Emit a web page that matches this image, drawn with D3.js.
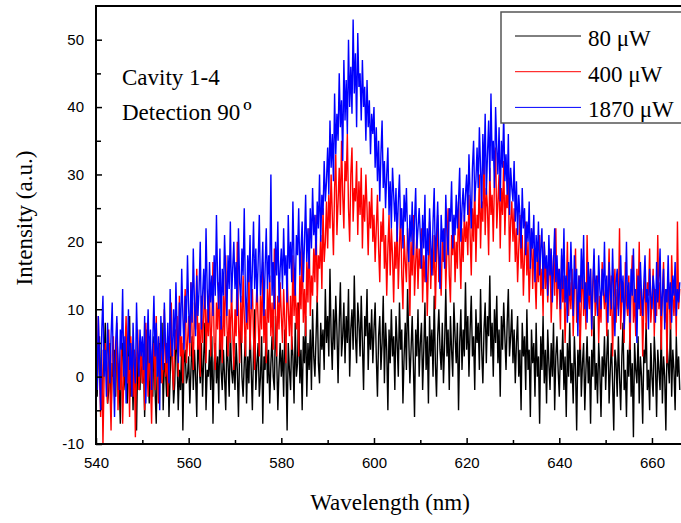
<!DOCTYPE html>
<html>
<head>
<meta charset="utf-8">
<script src="https://cdn.jsdelivr.net/npm/d3@7"></script>
<style>
  body { margin: 0; background: #fff; }
  .tick-label { font-family: "Liberation Sans", Arial, sans-serif; font-size: 15px; }
  .serif { font-family: "Liberation Serif", "DejaVu Serif", serif; font-size: 23px; }
</style>
</head>
<body>
<div id="chart"></div>
<script>
// wavelength grid (nm)
const wlStart = 540;
const wlStep = 0.25;

const seriesNames = ['80 \u03bcW', '400 \u03bcW', '1870 \u03bcW'];
const seriesColors = ['#000000', '#ff0000', '#0000ff'];

const xTicks = [540, 560, 580, 600, 620, 640, 660];
const yTicks = [-10, 0, 10, 20, 30, 40, 50];

// 80 uW, one row per 10 nm
const p80 = [
  2, -3, 4, 6, -1, -5, 0, 3, 8, 1, -4, -2, 5, -6, 2, 0, 4, -3, 7, 1, -1, -7, 3, 5, -2, 0, 6, -4, 1, 9, -3, 2, -5, 4, 0, -8, 3, 1, -2, 5,
  -1, 3, -6, 2, 7, 0, -4, 4, 1, -3, 6, -2, -7, 3, 0, 5, -1, 8, -5, 2, 1, -3, 4, -6, 0, 6, 2, -4, -1, 7, 3, -5, 1, -2, 5, -8, 2, 4, -1, 0,
  3, -4, 1, 6, -2, 4, 0, -6, 7, 2, -1, 5, -3, 3, 8, -5, 1, 0, 4, -2, 6, -7, 2, 5, -1, 3, -4, 9, 1, -2, 4, 0, -5, 6, 2, -3, 7, 1, -1, 3,
  -2, 5, 1, -6, 4, 8, 0, -3, 2, 6, -4, 3, -1, 7, 1, -5, 4, 10, -2, 2, 5, -3, 0, 6, -7, 3, 1, 8, -1, 4, -4, 2, 6, 0, -2, 9, 3, -5, 1, 5,
  0, 4, -3, 7, 2, -8, 5, 1, -2, 6, 3, -4, 8, 0, 2, 11, -1, 4, -5, 6, 2, 9, -3, 5, 1, 7, -2, 10, 3, 0, 6, 12, 2, -1, 8, 4, 7, 1, 13, 5,
  9, 3, 16, 6, 1, 10, 4, 12, 7, -1, 8, 14, 3, 6, 11, 2, 9, 5, 13, 0, 7, 10, 4, 15, 6, 2, 11, 8, 3, 12, 5, -2, 9, 6, 13, 1, 8, 4, 10, 2,
  7, 11, 3, -3, 6, 9, 1, 5, 12, -1, 8, 4, -5, 7, 2, 10, 3, 6, -2, 9, 5, 0, 11, 4, 7, -4, 3, 8, 1, 13, 6, -1, 4, 9, 2, -6, 7, 3, 10, 0,
  5, 8, -2, 4, 11, 1, 6, -4, 9, 3, 7, 0, 12, 2, -3, 6, 10, 4, 1, 8, -1, 5, 13, 3, 7, -2, 9, 4, 0, 11, 6, 2, 8, -5, 5, 10, 1, 7, 3, 14,
  4, 9, 0, 7, 12, 3, 6, -2, 10, 5, 8, 1, 13, 4, -1, 7, 11, 2, 9, 6, 15, 3, 8, 0, 10, 5, 12, 2, 7, -3, 9, 4, 11, 6, 1, 8, 13, 3, 6, 10,
  2, 7, -1, 5, 9, 0, 4, -5, 8, 3, 6, -2, 10, 1, 4, -6, 7, 2, 5, -3, 8, 0, 3, -7, 6, 1, 9, -1, 4, -4, 7, 2, -2, 5, 0, 8, -5, 3, 6, 1,
  -3, 4, 1, 7, -2, 3, -6, 5, 0, 8, -1, 2, -4, 6, 1, -8, 4, 0, 7, -3, 2, 5, -5, 1, 6, -1, 3, -7, 4, 0, 9, -2, 2, -4, 5, 1, -6, 3, 0, 6,
  -2, 3, 7, -4, 1, 5, -1, -8, 4, 2, -3, 6, 0, -5, 3, 8, -2, 1, -6, 4, 0, 7, -3, 2, -9, 5, 1, -1, 6, -4, 3, 0, -7, 4, 2, 8, -2, 1, -5, 5,
  0, -3, 6, 2, -6, 4, 1, -2, 7, -4, 3, 0, -8, 5, 2, -1, 9, -3, 4, 1, -5, 6, 0, 3, -2,
];

// 400 uW
const p400 = [
  3, -2, 9, 1, -6, 4, -10, 0, 5, 2, -4, 7, -1, -8, 3, 6, -3, 1, 8, -5, 2, -2, 5, -7, 0, 4, 9, -1, 3, -6, 6, 1, -3, 4, -9, 2, 7, -2, 0, 5,
  -1, 4, -5, 8, 2, -3, 6, 0, -7, 3, 5, -2, 9, 1, -4, 4, 7, -1, 2, 10, 0, 5, -3, 6, 3, 11, 1, -2, 7, 4, 9, 0, 12, 3, 6, -1, 8, 13, 2, 5,
  9, 3, 14, 6, 1, 11, 7, 16, 4, 8, 0, 12, 5, 9, 15, 2, 10, 6, 13, 3, 8, 17, 5, 1, 11, 7, 14, 4, 9, 2, 12, 6, 18, 8, 3, 10, 5, 13, 7, 1,
  10, 6, 20, 8, 2, 12, 5, 15, 9, 3, 11, 7, 16, 4, 10, 13, 6, 1, 9, 14, 8, 3, 12, 7, 17, 5, 10, 2, 13, 8, 15, 6, 11, 4, 19, 9, 3, 12, 7, 14,
  9, 5, 13, 8, 2, 16, 10, 6, 12, 4, 18, 9, 14, 7, 11, 3, 15, 10, 20, 8, 13, 6, 17, 11, 22, 9, 15, 12, 19, 14, 24, 11, 18, 16, 21, 13, 25, 17, 20, 26,
  19, 27, 22, 30, 24, 18, 28, 33, 21, 26, 31, 24, 35, 27, 22, 32, 29, 36, 25, 20, 30, 34, 23, 28, 26, 32, 21, 29, 24, 31, 19, 27, 23, 30, 25, 18, 26, 22, 28, 20,
  24, 17, 22, 27, 19, 14, 23, 20, 25, 16, 21, 12, 19, 24, 15, 22, 18, 11, 20, 16, 23, 13, 19, 25, 15, 10, 21, 17, 14, 22, 18, 9, 20, 15, 24, 12, 17, 21, 13, 19,
  16, 22, 11, 18, 14, 20, 9, 17, 23, 13, 19, 15, 21, 10, 18, 24, 14, 16, 12, 20, 17, 22, 13, 19, 25, 15, 11, 21, 18, 23, 14, 20, 16, 26, 19, 13, 22, 17, 24, 20,
  23, 18, 27, 21, 15, 25, 20, 29, 17, 24, 22, 30, 19, 26, 23, 33, 21, 28, 25, 18, 31, 24, 27, 20, 29, 34, 22, 26, 30, 19, 28, 24, 32, 21, 27, 25, 31, 17, 23, 26,
  20, 25, 17, 22, 14, 19, 24, 16, 21, 12, 18, 23, 15, 20, 11, 17, 22, 13, 19, 15, 10, 18, 14, 21, 12, 16, 9, 20, 13, 17, 11, 15, 19, 8, 14, 18, 12, 22, 10, 16,
  13, 7, 18, 11, 15, 5, 12, 20, 9, 14, 10, 16, 6, 13, 19, 8, 12, 15, 4, 11, 17, 9, 14, 7, 21, 12, 10, 16, 6, 13, 18, 9, 11, 15, 5, 12, 8, 17, 13, 10,
  14, 6, 12, 19, 9, 15, 3, 11, 16, 8, 13, 10, 22, 7, 12, 14, 5, 17, 11, 9, 15, 4, 13, 18, 8, 12, 6, 16, 10, 20, 9, 13, 3, 11, 15, 7, 14, 12, 19, 8,
  11, 16, 6, 13, 9, 21, 10, 14, 4, 12, 17, 8, 13, 2, 15, 11, 7, 18, 12, 9, 14, 6, 23, 10, 13,
];

// 1870 uW
const p1870 = [
  5, -2, 9, 2, -5, 7, 12, 0, 4, -3, 8, 3, -1, 6, 11, 1, -6, 5, 9, 2, -2, 7, 4, 13, 0, 6, -4, 3, 10, 1, 5, -3, 8, 2, -1, 11, 4, 0, 7, 3,
  6, 1, 9, -4, 4, 10, 2, 7, -2, 5, 12, 3, 8, 0, 6, -5, 9, 4, 1, 11, 5, 2, 8, -1, 13, 6, 3, 10, 4, 14, 7, 2, 11, 6, 16, 9, 4, 12, 8, 18,
  10, 5, 14, 8, 19, 11, 6, 15, 9, 13, 20, 7, 12, 16, 10, 22, 13, 8, 17, 11, 15, 9, 18, 12, 24, 14, 10, 19, 7, 16, 12, 21, 15, 9, 18, 13, 23, 11, 16, 20,
  13, 17, 9, 22, 14, 11, 19, 15, 25, 12, 8, 18, 14, 21, 10, 16, 23, 13, 19, 11, 17, 24, 12, 15, 20, 9, 16, 22, 13, 18, 14, 30, 12, 17, 10, 20, 15, 23, 11, 16,
  19, 13, 22, 15, 18, 11, 24, 16, 20, 14, 26, 17, 12, 21, 18, 25, 15, 19, 23, 14, 20, 27, 17, 22, 16, 25, 19, 28, 21, 24, 18, 26, 22, 30, 20, 27, 24, 32, 26, 29,
  34, 27, 38, 31, 36, 29, 42, 33, 39, 35, 45, 37, 41, 32, 47, 38, 44, 36, 50, 40, 46, 39, 53, 42, 48, 37, 51, 43, 45, 38, 47, 40, 43, 35, 44, 37, 41, 33, 39, 36,
  40, 31, 37, 29, 35, 26, 33, 38, 28, 32, 25, 30, 34, 24, 29, 22, 31, 27, 23, 28, 20, 26, 30, 22, 25, 19, 27, 23, 28, 21, 17, 24, 20, 26, 18, 23, 28, 19, 22, 25,
  21, 16, 24, 19, 27, 14, 22, 18, 25, 20, 15, 23, 28, 17, 21, 26, 19, 13, 24, 20, 22, 16, 27, 21, 18, 25, 23, 29, 19, 24, 21, 27, 22, 26, 31, 20, 25, 28, 23, 27,
  30, 24, 33, 27, 22, 31, 35, 26, 29, 34, 28, 37, 31, 25, 36, 30, 39, 27, 33, 38, 29, 42, 32, 35, 28, 40, 34, 30, 37, 26, 35, 31, 39, 29, 33, 27, 36, 24, 31, 28,
  26, 32, 23, 29, 21, 27, 24, 19, 28, 22, 25, 18, 23, 20, 26, 16, 22, 19, 24, 14, 21, 17, 23, 15, 19, 22, 13, 20, 16, 18, 12, 21, 15, 19, 11, 17, 22, 14, 18, 13,
  16, 10, 19, 13, 22, 11, 15, 8, 17, 12, 20, 14, 9, 18, 13, 16, 6, 15, 11, 19, 13, 21, 10, 14, 8, 17, 12, 16, 7, 14, 19, 11, 15, 9, 18, 13, 10, 16, 12, 20,
  11, 15, 8, 17, 13, 10, 19, 12, 6, 14, 16, 9, 13, 18, 11, 15, 7, 12, 20, 10, 14, 8, 16, 12, 19, 11, 13, 5, 15, 10, 17, 12, 9, 14, 18, 11, 13, 7, 16, 12,
  10, 15, 13, 8, 17, 11, 14, 19, 9, 12, 16, 7, 13, 11, 18, 10, 14, 8, 15, 12, 17, 9, 13, 11, 14,
];

class SpectrumChart {
  constructor(_config, _data) {
    this.config = {
      parentElement: _config.parentElement,
      containerWidth: 681,
      containerHeight: 523,
      margin: {
        top: 6, right: -2, bottom: 79, left: 96,
      },
    };
    this.data = _data;
    this.initVis();
  }

  initVis() {
    const vis = this;
    const m = vis.config.margin;

    vis.width = vis.config.containerWidth - m.left - m.right;
    vis.height = vis.config.containerHeight - m.top - m.bottom;

    vis.svg = d3.select(vis.config.parentElement).append('svg')
      .attr('width', vis.config.containerWidth)
      .attr('height', vis.config.containerHeight);

    vis.chartArea = vis.svg.append('g')
      .attr('transform', `translate(${m.left},${m.top})`);

    // 4.633 px per nm in the reference
    vis.xScale = d3.scaleLinear()
      .domain([540, 540 + vis.width / 4.633])
      .range([0, vis.width]);

    vis.yScale = d3.scaleLinear()
      .domain([-10, 55])
      .range([vis.height, 0]);

    vis.svg.append('defs').append('clipPath')
      .attr('id', 'plot-clip')
      .append('rect')
      .attr('width', vis.width)
      .attr('height', vis.height);

    vis.updateVis();
  }

  updateVis() {
    const vis = this;
    vis.series = vis.data.map((vals, i) => ({
      name: seriesNames[i],
      color: seriesColors[i],
      points: vals.map((v, j) => ({ wl: wlStart + j * wlStep, value: v })),
    }));
    vis.renderVis();
  }

  renderVis() {
    const vis = this;

    const line = d3.line()
      .x((d) => vis.xScale(d.wl))
      .y((d) => vis.yScale(d.value));

    vis.chartArea.append('g')
      .attr('clip-path', 'url(#plot-clip)')
      .selectAll('path.spectrum')
      .data(vis.series)
      .join('path')
      .attr('class', 'spectrum')
      .attr('fill', 'none')
      .attr('stroke', (d) => d.color)
      .attr('stroke-width', 1.4)
      .attr('d', (d) => line(d.points));

    // inward ticks
    const xAxis = d3.axisBottom(vis.xScale)
      .tickValues(d3.range(540, 670, 10))
      .tickSize(-6)
      .tickFormat((d) => (xTicks.includes(d) ? d : ''));
    const xAxisG = vis.chartArea.append('g')
      .attr('transform', `translate(0,${vis.height})`)
      .call(xAxis);
    xAxisG.selectAll('.tick')
      .filter((d) => !xTicks.includes(d))
      .select('line')
      .attr('y2', -4);
    xAxisG.selectAll('text')
      .attr('class', 'tick-label')
      .attr('y', 13)
      .attr('fill', '#000');

    const yAxis = d3.axisLeft(vis.yScale)
      .tickValues(d3.range(-10, 55, 5))
      .tickSize(-6)
      .tickFormat((d) => (yTicks.includes(d) ? d : ''));
    const yAxisG = vis.chartArea.append('g').call(yAxis);
    yAxisG.selectAll('.tick')
      .filter((d) => !yTicks.includes(d))
      .select('line')
      .attr('x2', 5);
    yAxisG.selectAll('text')
      .attr('class', 'tick-label')
      .attr('x', -12)
      .attr('fill', '#000');

    [xAxisG, yAxisG].forEach((g) => {
      g.select('.domain').remove();
      g.selectAll('.tick line').attr('stroke', '#000').attr('stroke-width', 1.5);
    });

    // frame
    vis.chartArea.append('rect')
      .attr('width', vis.width)
      .attr('height', vis.height)
      .attr('fill', 'none')
      .attr('stroke', '#000')
      .attr('stroke-width', 2);

    // axis titles
    vis.svg.append('text')
      .attr('class', 'serif')
      .attr('x', 390)
      .attr('y', 510)
      .attr('text-anchor', 'middle')
      .text('Wavelength (nm)');

    vis.svg.append('text')
      .attr('class', 'serif')
      .attr('transform', 'translate(32,218) rotate(-90)')
      .attr('text-anchor', 'middle')
      .text('Intensity (a.u.)');

    // annotations
    vis.svg.append('text')
      .attr('class', 'serif')
      .attr('x', 122)
      .attr('y', 85)
      .text('Cavity 1-4');

    const det = vis.svg.append('text')
      .attr('class', 'serif')
      .attr('x', 122)
      .attr('y', 120)
      .text('Detection 90');
    det.append('tspan')
      .attr('dx', 3)
      .attr('font-size', '27px')
      .text('\u00ba');

    // legend
    const legend = vis.svg.append('g');
    legend.append('rect')
      .attr('x', 501)
      .attr('y', 12)
      .attr('width', 200)
      .attr('height', 111)
      .attr('fill', '#fff')
      .attr('stroke', '#555')
      .attr('stroke-width', 1.5);

    const items = legend.selectAll('g.item')
      .data(vis.series)
      .join('g')
      .attr('class', 'item')
      .attr('transform', (d, i) => `translate(0,${36 + i * 35.7})`);
    items.append('line')
      .attr('x1', 515)
      .attr('x2', 581)
      .attr('stroke', (d) => d.color)
      .attr('stroke-width', 1);
    items.append('text')
      .attr('class', 'serif')
      .attr('x', 588)
      .attr('y', 10)
      .text((d) => d.name);
  }
}

const chart = new SpectrumChart({ parentElement: '#chart' }, [p80, p400, p1870]);
</script>
</body>
</html>
